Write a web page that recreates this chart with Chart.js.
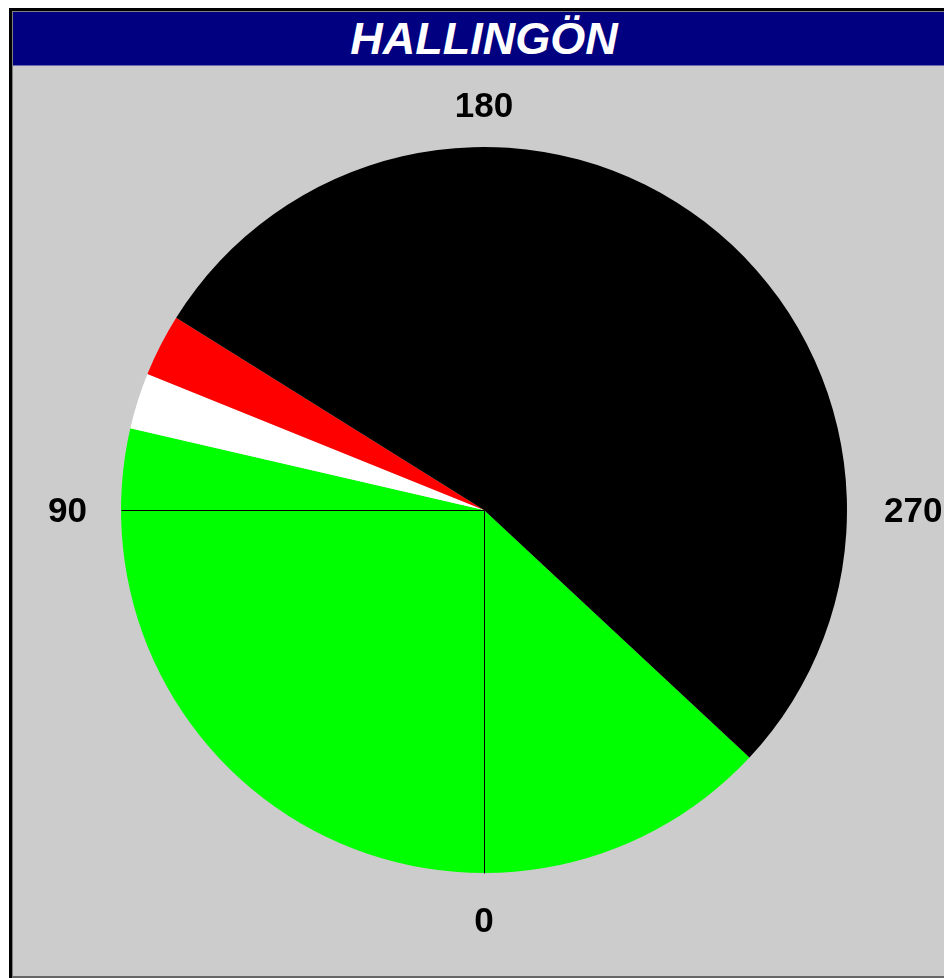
<!DOCTYPE html>
<html>
<head>
<meta charset="utf-8">
<title>HALLINGÖN</title>
<script src="https://cdn.jsdelivr.net/npm/chart.js@4.4.1/dist/chart.umd.min.js"></script>
<style>
    html, body { margin: 0; padding: 0; background: #fff; overflow: hidden; width: 944px; height: 978px; }
    #frame { position: absolute; left: 9px; top: 8px; border-left: 3px solid #000; border-top: 3px solid #000; }
    #inner { border-left: 1px solid #808080; border-top: 1px solid #808080; border-bottom: 2px solid #666; width: 942px; }
    #title { height: 53px; background: #000080; border-bottom: 1px solid #6a6ab0; color: #fff;
        font: italic bold 45px "Liberation Sans", Arial, sans-serif;
        text-align: center; line-height: 54px; overflow: hidden; }
    #wrap { width: 942px; height: 910px; background: #cccccc; }
</style>
</head>
<body>
<div id="frame"><div id="inner">
    <div id="title">HALLINGÖN</div>
    <div id="wrap"><canvas id="sectors" width="942" height="910"></canvas></div>
</div></div>
<script>
// sektorer, medurs från startbäringen (grader)
const sectorNames = ['Grön', 'Vit', 'Röd', 'Skymd'];
const sectorSpans = [150, 9, 10, 191];
const startBearing = 313;
// bäringsetiketter runt cirkeln och hjälplinjer
const bearingTicks = [0, 90, 180, 270];
const guideBearings = [0, 90];

const sectorColors = ['#00ff00', '#ffffff', '#ff0000', '#000000'];

// bäring 0 = nedåt, 90 = vänster, ökar medurs
function dir(b) {
    const a = b * Math.PI / 180;
    return { x: -Math.sin(a), y: Math.cos(a) };
}

const bearingPlugin = {
    id: 'bearings',
    afterDatasetsDraw(chart) {
        const arc = chart.getDatasetMeta(0).data[0];
        if (!arc) return;
        const cx = arc.x, cy = arc.y, r = arc.outerRadius;
        const ctx = chart.ctx;
        ctx.save();
        ctx.strokeStyle = '#000';
        ctx.lineWidth = 1;
        guideBearings.forEach(b => {
            const d = dir(b);
            ctx.beginPath();
            ctx.moveTo(Math.round(cx) + 0.5, Math.round(cy) + 0.5);
            ctx.lineTo(Math.round(cx + d.x * r) + 0.5, Math.round(cy + d.y * r) + 0.5);
            ctx.stroke();
        });
        ctx.fillStyle = '#000';
        ctx.font = 'bold 35px "Liberation Sans", Arial, sans-serif';
        bearingTicks.forEach(b => {
            const d = dir(b);
            let gap = 34;
            ctx.textAlign = d.x > 0.5 ? 'left' : d.x < -0.5 ? 'right' : 'center';
            if (d.y > 0.5) { ctx.textBaseline = 'top'; gap = 32; }
            else if (d.y < -0.5) { ctx.textBaseline = 'alphabetic'; gap = 30; }
            else { ctx.textBaseline = 'middle'; gap = d.x > 0 ? 37 : 34; }
            ctx.fillText(String(b), cx + d.x * (r + gap), cy + d.y * (r + gap) + (Math.abs(d.y) < 0.5 ? 2 : 0));
        });
        ctx.restore();
    }
};

new Chart(document.getElementById('sectors'), {
    type: 'pie',
    data: {
        labels: sectorNames,
        datasets: [{
            data: sectorSpans,
            backgroundColor: sectorColors,
            borderWidth: 0,
            hoverOffset: 0
        }]
    },
    options: {
        responsive: false,
        animation: false,
        rotation: startBearing + 180,
        layout: { padding: { top: 81, bottom: 103, left: 108, right: 108 } },
        plugins: { legend: { display: false }, tooltip: { enabled: false } },
        events: []
    },
    plugins: [bearingPlugin]
});
</script>
</body>
</html>
